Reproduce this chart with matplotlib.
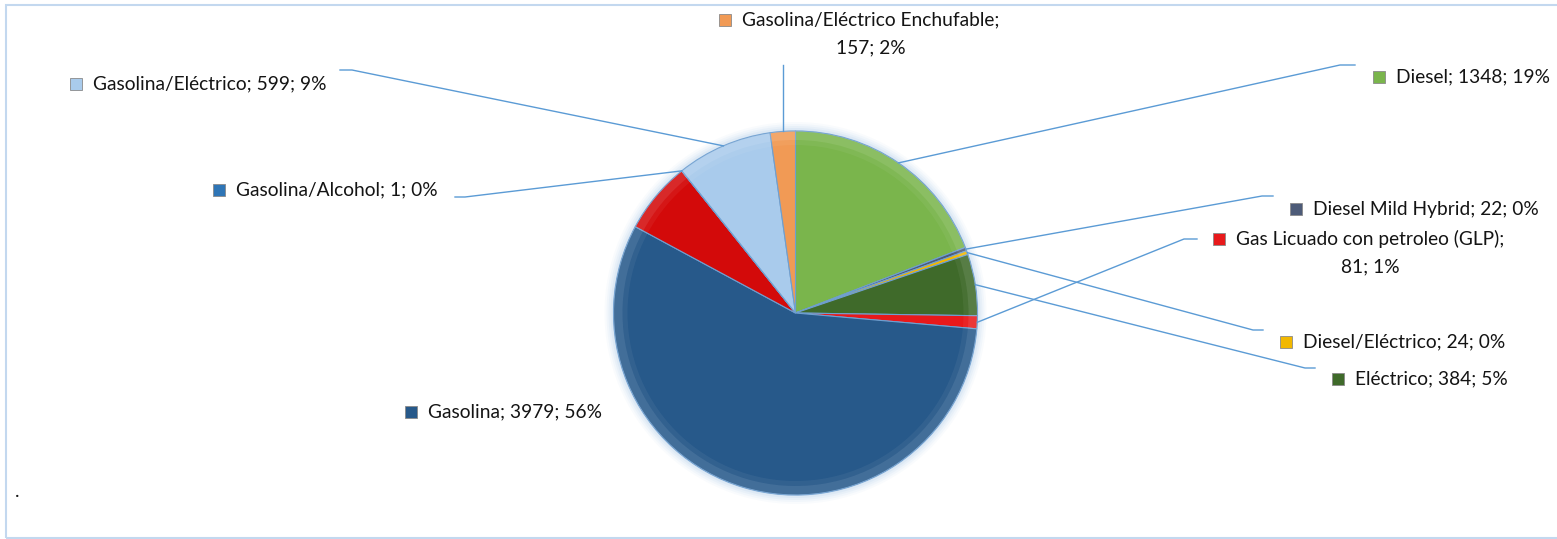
import numpy as np
import matplotlib.pyplot as plt
from matplotlib.patches import Circle, Rectangle, Wedge

# data, clockwise from 12 o'clock
categorias = ['Diesel', 'Diesel Mild Hybrid', 'Diesel/Eléctrico', 'Eléctrico',
              'Gas Licuado con petroleo (GLP)', 'Gasolina', 'Otro',
              'Gasolina/Alcohol', 'Gasolina/Eléctrico',
              'Gasolina/Eléctrico Enchufable']
valores = [1348, 22, 24, 384, 81, 3979, 450, 1, 599, 157]
colores = ['#7ab54c', '#4d5b78', '#f2b800', '#3f6a2a', '#e8191b',
           '#27598a', '#d30a0a', '#2e75b6', '#a9cbec', '#f19a55']
etiquetas = ['Diesel; 1348; 19%', 'Diesel Mild Hybrid; 22; 0%',
             'Diesel/Eléctrico; 24; 0%', 'Eléctrico; 384; 5%',
             'Gas Licuado con petroleo (GLP);\n81; 1%', 'Gasolina; 3979; 56%',
             None, 'Gasolina/Alcohol; 1; 0%', 'Gasolina/Eléctrico; 599; 9%',
             'Gasolina/Eléctrico Enchufable;\n157; 2%']

W, H = 1557, 539
FS = 13.8
plt.rcParams['font.family'] = ['Lato', 'DejaVu Sans']

fig = plt.figure(figsize=(W / 100, H / 100), dpi=100)
ax = fig.add_axes([0, 0, 1, 1])

def py(y):
    # pixel row -> data y
    return H - y

cx, cy, R = 795.5, py(313), 182

# soft glow round the pie
for i, a in enumerate([0.06, 0.08, 0.10, 0.14, 0.18]):
    ax.add_patch(Circle((cx, cy), R + 9 - i * 2, color='#9dc3e6', alpha=a, lw=0, zorder=1))

wedges, _ = ax.pie(valores, colors=colores, startangle=90, counterclock=False,
                   center=(cx, cy), radius=R, frame=True,
                   wedgeprops=dict(edgecolor='#6f9fd0', linewidth=0.8, zorder=2))

# bevel-ish rim
for w in wedges:
    t1, t2 = w.theta1, w.theta2
    ax.add_patch(Wedge((cx, cy), R, t1, t2, width=9, color='white', alpha=0.13, lw=0, zorder=3))
    ax.add_patch(Wedge((cx, cy), R - 9, t1, t2, width=5, color='white', alpha=0.05, lw=0, zorder=3))

# leader line anchor on each wedge
tot = sum(valores)
acum = np.cumsum([0] + valores[:-1])
ang = np.deg2rad(90 - (acum + np.array(valores) / 2) / tot * 360)
px_ = cx + R * np.cos(ang)
py_ = cy + R * np.sin(ang)

linea = '#5b9bd5'
# label layout: marker centre (pixel), leader path points (pixel)
layout = {
    0: ((1379, 77), [(1355, 65), (1340, 65)]),
    1: ((1296, 209), [(1273, 196), (1262, 196)]),
    2: ((1286, 342), [(1263, 330), (1253, 330)]),
    3: ((1338, 379), [(1315, 368), (1305, 368)]),
    4: ((1219, 239), [(1197, 239), (1184, 239)]),
    5: ((411, 412), None),
    7: ((219, 190), [(455, 197), (465, 197)]),
    8: ((76, 84), [(340, 70), (352, 70)]),
    9: ((725, 20), [(px_[9], 65)]),
}

for i, (mk, path) in layout.items():
    mx, my = mk
    ax.plot(mx, py(my), marker='s', ms=8, mfc=colores[i], mec='#8a8a8a', mew=0.6,
            zorder=5)
    txt = etiquetas[i].split('\n')
    ax.text(mx + 17, py(my), txt[0], fontsize=FS, color='#141414',
            va='center', ha='left', zorder=5)
    if len(txt) > 1:
        t = ax.text(0, 0, txt[0], fontsize=FS)
        fig.canvas.draw()
        bb = t.get_window_extent()
        t.remove()
        ax.text(mx + 17 + bb.width / 2, py(my) - 28, txt[1], fontsize=FS,
                color='#141414', va='center', ha='center', zorder=5)
    if path:
        xs = [p[0] for p in path] + [px_[i]]
        ys = [py(p[1]) for p in path] + [py_[i]]
        ax.plot(xs, ys, color=linea, lw=1, zorder=4)

ax.text(17, py(497), '.', fontsize=FS, color='#141414', va='baseline', ha='center')

# chart border
ax.add_patch(Rectangle((6.5, py(538)), W, 533, fill=False, edgecolor='#c3d8ef',
                       lw=1.5, zorder=0))

ax.set_xlim(0, W)
ax.set_ylim(0, H)
ax.set_aspect('equal')
ax.axis('off')

fig.savefig('out.png', dpi=100)
